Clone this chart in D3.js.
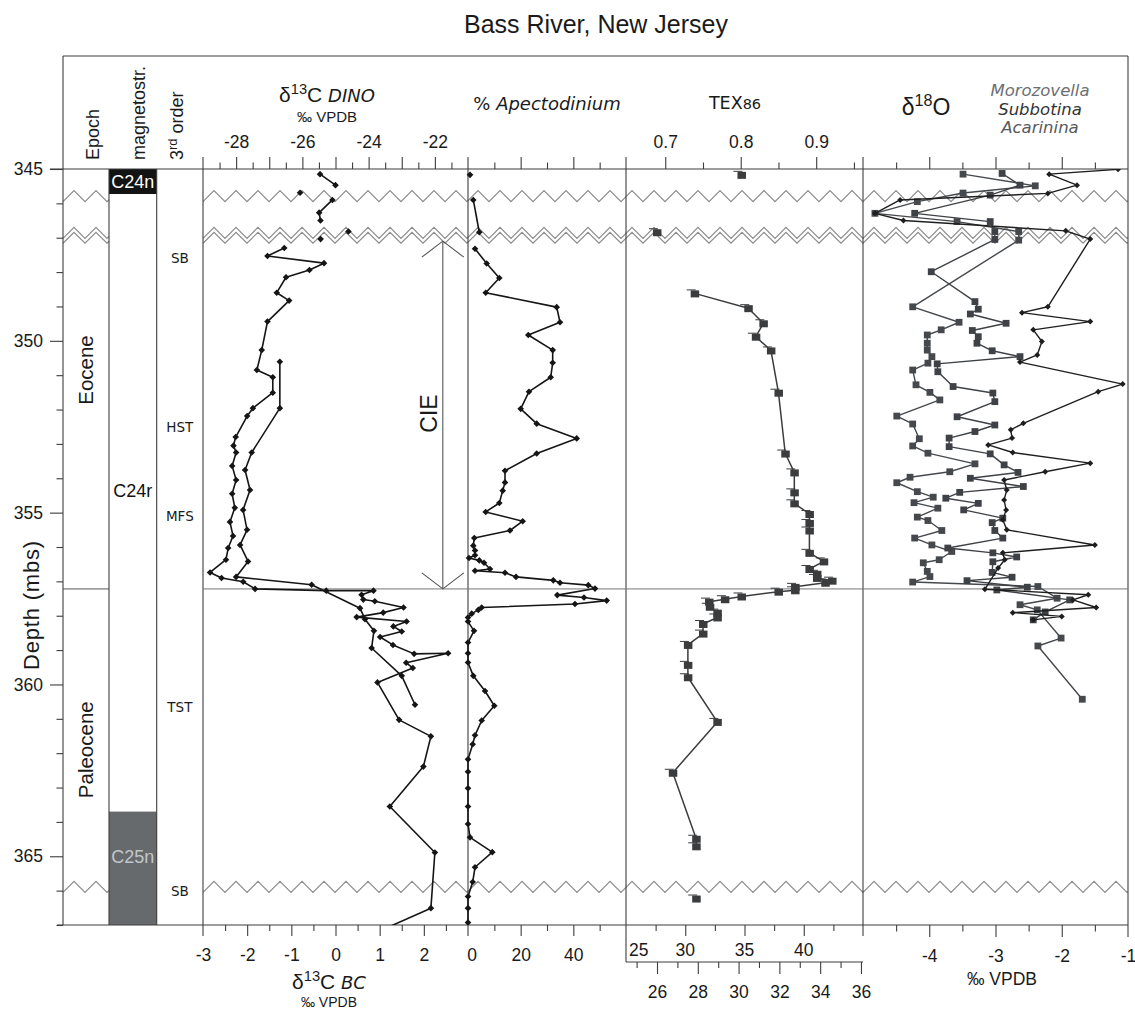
<!DOCTYPE html>
<html><head><meta charset="utf-8">
<script src="https://cdn.jsdelivr.net/npm/d3@7"></script>
<style>body{margin:0;background:#fff}svg{display:block}</style>
</head><body><svg id="c" width="1135" height="1011"></svg>
<script>
// ---------------- DATA ----------------
const depthTicksMajor = [345, 350, 355, 360, 365];
const epochs = [{name:"Eocene", top:345, base:357.22}, {name:"Paleocene", top:357.22, base:367}];
const chrons = [{name:"C24n", top:345, base:345.73, fill:"#131313", text:"#ffffff"},
                {name:"C24r", top:345.73, base:363.7, fill:"#ffffff", text:"#111111"},
                {name:"C25n", top:363.7, base:367, fill:"#666a6d", text:"#c3c6ca"}];
const sequences = [{name:"SB", depth:347.6}, {name:"HST", depth:352.5}, {name:"MFS", depth:355.1},
                   {name:"TST", depth:360.65}, {name:"SB", depth:366.0}];
const unconformities = [345.79, 346.86, 347.0, 365.89];
const cieOnset = 357.22, cieTop = 347.1;

const bcDepth = [345.15,345.47,345.90,346.27,346.50,347.30,347.53,347.74,347.94,348.15,348.60,348.83,349.44,350.27,350.85,351.06,351.51,351.96,352.19,352.80,353.05,353.25,353.64,354.05,354.45,354.86,355.27,355.68,356.03,356.37,356.74,356.90,357.01,357.22,357.27,357.27,357.39,357.53,357.58,357.76,357.91,358.04,358.17,358.31,358.46,358.62,358.85,359.11,359.09,359.37,359.52,359.94,361.03,361.51,362.39,363.55,364.89,366.51,367.50];
const bcValue = [-0.35,0.00,-0.07,-0.37,-0.34,-1.16,-1.54,-0.26,-0.59,-1.12,-1.33,-1.05,-1.54,-1.67,-1.78,-1.42,-1.42,-1.87,-2.00,-2.26,-2.31,-2.25,-2.34,-2.25,-2.34,-2.28,-2.39,-2.32,-2.43,-2.48,-2.84,-2.58,-2.09,-1.82,-0.21,0.86,0.59,0.63,0.89,1.54,1.08,0.48,1.61,1.31,1.50,1.01,1.30,1.78,2.55,1.60,1.75,0.95,1.44,2.16,1.99,1.23,2.25,2.16,0.43];
const bcBreaks = [345.8, 346.95];

const dinoDepth = [345.69,346.82,347.04,350.61,351.96,353.25,353.76,354.34,354.92,355.50,355.94,356.42,356.87,357.10,357.78,358.10,358.44,358.94,359.75,360.59];
const dinoValue = [-26.07,-24.61,-25.45,-26.68,-26.68,-27.53,-27.73,-27.58,-27.79,-27.67,-27.88,-27.64,-28.00,-25.72,-24.26,-24.11,-23.84,-23.91,-23.00,-22.60];
const dinoBreaks = [345.8, 346.93, 347.2];

const apecDepth = [345.17,345.90,346.84,347.32,347.75,348.17,348.60,349.02,349.46,349.83,350.27,350.64,351.06,351.48,351.98,352.41,352.84,353.28,353.78,354.12,354.36,354.72,354.98,355.25,355.52,355.74,355.96,356.10,356.24,356.32,356.39,356.46,356.64,356.69,356.75,356.87,356.97,357.04,357.11,357.21,357.40,357.47,357.56,357.66,357.76,357.83,357.94,358.05,358.17,358.44,358.78,359.09,359.36,359.75,360.19,360.62,361.05,361.48,361.74,362.18,362.54,363.02,363.55,364.06,364.45,364.88,365.32,365.75,366.17,366.51,366.93];
const apecValue = [0.76,2.01,4.29,2.66,7.10,11.89,6.72,33.68,34.94,22.90,32.16,32.16,31.41,23.16,20.01,26.09,41.28,26.09,14.05,14.05,13.18,11.89,6.72,20.77,15.95,2.39,2.01,2.66,2.66,0.38,4.29,6.08,8.35,2.66,14.05,18.23,32.39,34.94,45.68,48.23,33.91,44.05,52.67,40.63,5.20,3.91,1.41,0,0,2.28,0,0,0,2.01,6.46,9.99,5.20,2.66,1.78,0,0,0,0,0,0.76,9.23,2.66,1.78,0,0,0];
const apecBreaks = [345.8, 346.95];

const texDepth = [345.17,346.84,348.62,349.05,349.49,349.88,350.28,351.51,353.28,353.83,354.41,354.73,355.04,355.30,355.52,356.17,356.42,356.64,356.78,356.90,356.98,357.04,357.16,357.26,357.30,357.44,357.52,357.59,357.74,357.91,358.05,358.24,358.52,358.85,359.43,359.79,361.09,362.57,364.49,364.71,366.23];
const texValue = [0.801,0.689,0.739,0.810,0.830,0.820,0.840,0.850,0.859,0.871,0.871,0.871,0.891,0.891,0.891,0.891,0.910,0.891,0.901,0.901,0.921,0.912,0.872,0.872,0.850,0.801,0.779,0.758,0.759,0.769,0.769,0.750,0.750,0.730,0.730,0.730,0.769,0.710,0.741,0.741,0.741];
const texBreaks = [345.8, 346.95, 365.9];

const subbDepth = [345.01,345.15,345.47,345.71,345.90,346.29,346.50,346.80,347.04,349.01,349.18,349.44,349.68,350.02,350.41,350.62,351.26,351.48,352.40,352.59,352.83,353.03,353.25,353.56,353.81,354.05,354.34,354.63,354.92,355.21,355.50,355.94,356.17,356.37,356.61,357.23,357.39,357.54,357.76,357.91,358.02,358.12];
const subbValue = [-1.15,-2.19,-1.77,-2.21,-4.44,-4.82,-4.39,-1.94,-1.57,-2.21,-2.60,-1.57,-2.43,-2.30,-2.37,-2.63,-1.08,-1.45,-2.58,-2.77,-2.75,-3.11,-2.74,-1.57,-2.25,-2.87,-2.83,-2.87,-2.84,-2.89,-2.83,-1.50,-2.89,-2.86,-2.96,-3.16,-1.60,-1.83,-1.48,-2.74,-2.00,-2.43];

const moroDepth = [345.15,345.49,345.70,345.95,346.29,346.53,346.82,347.07,349.01,349.46,349.68,349.83,350.07,350.27,350.46,350.65,350.85,351.28,351.50,351.72,352.19,352.42,352.85,353.06,353.27,353.58,353.81,353.97,354.13,354.39,354.55,354.71,354.87,355.13,355.23,355.52,355.74,355.94,356.13,356.37,356.46,356.71,356.86,357.02,357.15,357.49,357.68,357.83,358.65,358.88,360.43];
const moroValue = [-3.49,-2.40,-3.49,-4.18,-4.82,-3.58,-2.65,-2.65,-4.25,-3.55,-3.82,-4.03,-4.03,-4.03,-3.96,-4.02,-4.25,-4.20,-3.99,-3.84,-4.49,-4.25,-4.15,-4.25,-4.02,-3.31,-3.69,-4.29,-4.49,-4.18,-3.94,-4.23,-3.87,-4.18,-4.02,-3.81,-4.22,-3.96,-3.66,-3.85,-4.09,-4.03,-3.99,-4.25,-2.36,-2.07,-2.63,-2.37,-2.01,-2.36,-1.69];

const acarDepth = [345.13,345.47,345.76,346.29,346.53,346.82,347.05,347.99,348.86,349.08,349.22,349.49,349.70,349.88,350.07,350.29,350.46,350.67,350.90,351.33,351.52,351.77,352.21,352.45,352.64,352.83,353.08,353.29,353.61,353.83,354.00,354.24,354.41,354.58,354.73,354.92,355.16,355.29,355.52,355.74,356.03,356.17,356.29,356.43,356.74,356.88,356.98,357.17,357.25,357.54,357.89,358.12];
const acarValue = [-2.90,-2.63,-3.08,-4.22,-3.08,-3.01,-3.01,-3.97,-3.31,-3.26,-3.38,-2.84,-3.35,-3.26,-3.28,-3.05,-2.63,-3.88,-3.87,-3.64,-3.04,-3.01,-3.58,-3.01,-3.31,-3.70,-3.70,-3.08,-2.87,-2.66,-3.38,-2.58,-3.54,-3.75,-3.26,-3.48,-2.89,-3.05,-3.01,-2.89,-3.72,-3.04,-2.68,-3.04,-3.05,-2.75,-3.43,-2.52,-2.98,-1.88,-2.25,-2.43];

// tick label lists
const dinoLabels = [-28,-26,-24,-22];
const bcLabels = [-3,-2,-1,0,1,2];
const apecLabels = [0,20,40];
const texLabels = [0.7,0.8,0.9];
const sst1Labels = [25,30,35,40];
const sst2Labels = [26,28,30,32,34,36];
const d18Labels = [-4,-3,-2,-1];

// ---------------- LAYOUT ----------------
const F = "'Liberation Sans', Arial, sans-serif";
const FD = "'DejaVu Sans', Verdana, sans-serif";
const LC = "#3d3d3d";
const X = {frameL:63, epochR:109, magR:156.7, seqR:203, c13R:468, apeR:626, texR:863, frameR:1128};
const TOP = 56;
const svg = d3.select("#c");

const y = d3.scaleLinear().domain([345,367]).range([169,925]);
const xDino = d3.scaleLinear().domain([-29,-21]).range([X.seqR, X.c13R]);
const xBC = d3.scaleLinear().domain([-3,3]).range([X.seqR, X.c13R]);
const xApe = d3.scaleLinear().domain([0,60]).range([X.c13R, X.apeR]);
const xTex = d3.scaleLinear().domain([0.648,0.962]).range([X.apeR, X.texR]);
const xSST1 = d3.scaleLinear().domain([25,45]).range([X.apeR, X.texR]);
const xSST2 = d3.scaleLinear().domain([24.48,36.1]).range([X.apeR, X.texR]);
const xO = d3.scaleLinear().domain([-5,-1]).range([X.texR, X.frameR]);
const Y0 = y(345), Y1 = y(367);

function line(x1,y1,x2,y2,c,w){ svg.append("line").attr("x1",x1).attr("y1",y1).attr("x2",x2).attr("y2",y2).attr("stroke",c||LC).attr("stroke-width",w||1.1); }
function txt(x,yy,s,o){ o=o||{}; const t=svg.append("text").attr("x",x).attr("y",yy).text(s)
  .attr("font-family",o.ff||F).attr("font-size",o.fs||16).attr("fill",o.fill||"#1a1a1a").attr("text-anchor",o.anchor||"middle");
  if(o.italic) t.attr("font-style","italic"); if(o.ls) t.attr("letter-spacing",o.ls);
  if(o.rot) t.attr("transform",`rotate(-90,${x},${yy})`); return t; }
function deltaLabel(x, yy, sup, main, tail, big){
  const t = svg.append("text").attr("x",x).attr("y",yy).attr("text-anchor","middle").attr("font-family",F).attr("fill","#1a1a1a");
  t.append("tspan").text("δ").attr("font-size",big);
  t.append("tspan").text(sup).attr("font-size",big*0.7).attr("dy",-big*0.36);
  t.append("tspan").text(main).attr("font-size",big).attr("dy",big*0.36);
  if(tail) t.append("tspan").text(tail).attr("font-size",big*0.86).attr("font-style","italic").attr("font-family",FD);
  return t;
}

// title
txt(596, 33, "Bass River, New Jersey", {fs:25});

// chron fills
chrons.forEach(c=>{
  svg.append("rect").attr("x",X.epochR).attr("y",y(c.top)).attr("width",X.magR-X.epochR).attr("height",y(c.base)-y(c.top)).attr("fill",c.fill);
});
chrons.forEach(c=>{
  let cy = c.name==="C24n" ? (y(c.top)+y(c.base))/2 : c.name==="C24r" ? y(354.35) : y(365.0);
  txt((X.epochR+X.magR)/2, cy+6.5, c.name, {fs:18, fill:c.text});
});

// zigzag unconformities
function zig(x0,x1,yc){
  const per=22, amp=5.5, pts=[];
  let i=0;
  for(let x=x0; x<x1; x+=per/2, i++) pts.push([x, yc + (i%2===0?amp:-amp)]);
  const last = pts[pts.length-1];
  const frac = (x1-last[0])/(per/2);
  const nextY = yc + (i%2===0?amp:-amp);
  pts.push([x1, last[1] + (nextY-last[1])*frac]);
  svg.append("path").attr("d", d3.line()(pts)).attr("fill","none").attr("stroke","#8c8c8c").attr("stroke-width",1.2);
}
unconformities.forEach(d=>{ zig(X.frameL, X.epochR, y(d)); zig(X.seqR, X.frameR, y(d)); });

// frame and column lines
line(X.frameL, TOP, X.frameR, TOP);
line(X.frameL, TOP, X.frameL, Y1);
line(X.frameR, TOP, X.frameR, Y1+12);
line(50, Y0, X.frameR, Y0);
line(57, Y1, X.frameR, Y1);
line(X.epochR, Y0, X.epochR, Y1);
line(X.magR, Y0, X.magR, Y1);
line(X.seqR, Y0-12, X.seqR, Y1+11);
line(X.c13R, Y0-12, X.c13R, Y1+11);
line(X.apeR, Y0-12, X.apeR, Y1+37);
line(X.texR, Y0-12, X.texR, Y1+11);
// epoch boundary + CIE onset line
line(X.frameL, y(cieOnset), X.epochR, y(cieOnset), "#555", 1);
line(X.seqR, y(cieOnset), X.frameR, y(cieOnset), "#777", 1);

// y axis
function yAxis(vals, size, lab){
  const g = svg.append("g").attr("transform",`translate(${X.frameL},0)`)
    .call(d3.axisLeft(y).tickValues(vals).tickSize(size).tickPadding(7).tickFormat(d=> lab? String(d):""));
  g.select(".domain").remove();
  g.selectAll("line").attr("stroke",LC).attr("stroke-width",1.1);
  g.selectAll("text").attr("font-family",F).attr("font-size",17.5).attr("fill","#1a1a1a");
}
yAxis(depthTicksMajor, 13, true);
yAxis(d3.range(346,368).filter(d=>!depthTicksMajor.includes(d)), 6.5, false);

// x axes helper
function xAxis(orient, scale, ypos, vals, size, labels, pad, fs){
  const a = (orient==="top"? d3.axisTop(scale) : d3.axisBottom(scale))
    .tickValues(vals).tickSize(size).tickPadding(pad)
    .tickFormat(d => labels.includes(d) ? String(d) : "");
  const g = svg.append("g").attr("transform",`translate(0,${ypos})`).call(a);
  g.select(".domain").remove();
  g.selectAll("line").attr("stroke",LC).attr("stroke-width",1.1);
  g.selectAll("text").attr("font-family",F).attr("font-size",fs||17.5).attr("fill","#1a1a1a");
  return g;
}
// top axes
xAxis("top", xDino, Y0, d3.range(-28,-21.5,1), 12, dinoLabels, 9);
xAxis("top", xDino, Y0, d3.range(-28.5,-21,1), 6.5, [], 9);
xAxis("top", xApe, Y0, [20,40], 12, [], 9);
xAxis("top", xApe, Y0, [10,30,50], 6.5, [], 9);
xAxis("top", xTex, Y0, [0.7,0.8,0.9], 12, texLabels, 9);
xAxis("top", xTex, Y0, [0.75,0.85,0.95], 6.5, [], 9);
xAxis("top", xO, Y0, [-4,-3,-2], 12, [], 9);
xAxis("top", xO, Y0, [-4.5,-3.5,-2.5,-1.5], 6.5, [], 9);
// bottom axes
xAxis("bottom", xBC, Y1, [-2,-1,0,1,2], 11, bcLabels, 13);
xAxis("bottom", xBC, Y1, [-3], 0, bcLabels, 24);
xAxis("bottom", xBC, Y1, d3.range(-2.5,3,1), 6, [], 13);
xAxis("bottom", xApe, Y1, [20,40], 11, apecLabels, 13);
xAxis("bottom", xApe, Y1, [10,30,50], 6, [], 13);
txt(xApe(0)+4, Y1+36, "0", {fs:17.5});
xAxis("bottom", xSST1, Y1, [30,35,40], 11, [], 13);
xAxis("bottom", xSST1, Y1, [27.5,32.5,37.5,42.5], 6, [], 13);
sst1Labels.forEach(v=>{
  txt(v===25 ? xSST1(v)+3 : xSST1(v), Y1+31, String(v), {fs:17.5, anchor: v===25?"start":"middle"});
});
const y2 = Y1+37;
line(X.apeR, y2, X.texR, y2);
xAxis("bottom", xSST2, y2, sst2Labels, 12, sst2Labels, 12);
xAxis("bottom", xSST2, y2, [25,27,29,31,33,35], 6, [], 12);
xAxis("bottom", xO, Y1, [-4,-3,-2], 12, d18Labels, 13);
xAxis("bottom", xO, Y1, [-1], 0, d18Labels, 25);
xAxis("bottom", xO, Y1, [-4.5,-3.5,-2.5,-1.5], 6.5, [], 13);

// headers
txt(99, 160, "Epoch", {fs:18, rot:true, anchor:"start"});
txt(145, 160, "magnetostr.", {fs:18, rot:true, anchor:"start"});
const t3 = svg.append("text").attr("transform","translate(183,160) rotate(-90)").attr("font-family",F).attr("font-size",18).attr("fill","#1a1a1a");
t3.append("tspan").text("3");
t3.append("tspan").text("rd").attr("font-size",13).attr("dy",-6);
t3.append("tspan").text(" order").attr("dy",6);
txt(93, y(350.85), "Eocene", {fs:20.5, rot:true});
txt(93, y(361.9), "Paleocene", {fs:20.5, rot:true});
txt(39, 605, "Depth (mbs)", {fs:22, rot:true, ls:0.8});
sequences.forEach(s=> txt((X.magR+X.seqR)/2, y(s.depth)+5, s.name, {fs:13.5, ff:FD}));

// δ13C DINO header
deltaLabel(327, 101.5, "13", "C", " DINO", 21);
txt(327, 122, "‰ VPDB", {fs:15});
// % Apectodinium
const h2 = svg.append("text").attr("x",547).attr("y",109.5).attr("text-anchor","middle").attr("font-family",FD).attr("font-size",18).attr("fill","#1a1a1a");
h2.append("tspan").text("% ");
h2.append("tspan").text("Apectodinium").attr("font-style","italic");
// TEX86
const h3 = svg.append("text").attr("x",735).attr("y",109).attr("text-anchor","middle").attr("font-family",FD).attr("fill","#1a1a1a");
h3.append("tspan").text("TEX").attr("font-size",17.5);
h3.append("tspan").text("86").attr("font-size",14.5);
// δ18O
deltaLabel(926, 114.5, "18", "O", null, 23);
txt(1040, 96, "Morozovella", {fs:16.5, ff:FD, italic:true, fill:"#6d6e71"});
txt(1040, 114.5, "Subbotina", {fs:16.5, ff:FD, italic:true, fill:"#333333"});
txt(1040, 133, "Acarinina", {fs:16.5, ff:FD, italic:true, fill:"#58595b"});
// bottom labels
deltaLabel(329, 989, "13", "C", " BC", 21);
txt(329, 1007, "‰ VPDB", {fs:14});
txt(1002, 985, "‰ VPDB", {fs:17.5});

// CIE arrow
const ax = xBC(2.43), at = y(cieTop), ab = y(cieOnset);
line(ax, at, ax, ab, "#555", 1.1);
svg.append("path").attr("d",`M${ax-21},${at+16}L${ax},${at}L${ax+21},${at+16}`).attr("fill","none").attr("stroke","#555").attr("stroke-width",1.1);
svg.append("path").attr("d",`M${ax-21},${ab-16}L${ax},${ab}L${ax+21},${ab-16}`).attr("fill","none").attr("stroke","#555").attr("stroke-width",1.1);
txt(437, 413.5, "CIE", {fs:23, rot:true});

// ---------------- SERIES ----------------
const defs = svg.append("defs");
function clip(id,x0,x1){ defs.append("clipPath").attr("id",id).append("rect").attr("x",x0-6).attr("y",Y0).attr("width",x1-x0+12).attr("height",Y1-Y0); return `url(#${id})`; }
function split(depths, values, breaks){
  const segs=[]; let cur=[];
  depths.forEach((d,i)=>{
    if(i>0 && breaks.some(b => (depths[i-1]-b)*(d-b) < 0)){ segs.push(cur); cur=[]; }
    cur.push([d, values[i]]);
  });
  segs.push(cur); return segs;
}
function series(depths, values, xs, breaks, o, clipUrl){
  const g = svg.append("g").attr("clip-path", clipUrl);
  const gen = d3.line().x(p=>xs(p[1])).y(p=>y(p[0]));
  split(depths, values, breaks).forEach(seg=>{
    if(seg.length>1) g.append("path").attr("d",gen(seg)).attr("fill","none").attr("stroke",o.color).attr("stroke-width",o.lw).attr("stroke-linejoin","round");
  });
  depths.forEach((d,i)=>{
    const cx = xs(values[i]), cy = y(d), s=o.size;
    if(o.marker==="diamond"){
      g.append("path").attr("d",`M${cx},${cy-s}L${cx+s},${cy}L${cx},${cy+s}L${cx-s},${cy}Z`).attr("fill",o.color);
    } else if(o.marker==="tex"){
      g.append("rect").attr("x",cx-4).attr("y",cy-3).attr("width",8.5).attr("height",7).attr("fill",o.color);
      g.append("line").attr("x1",cx-8).attr("y1",cy-3.5).attr("x2",cx+1).attr("y2",cy-3.5).attr("stroke",o.color).attr("stroke-width",1);
    } else {
      g.append("rect").attr("x",cx-s).attr("y",cy-s).attr("width",2*s).attr("height",2*s).attr("fill",o.color);
    }
  });
}
const c13Clip = clip("c13", X.seqR, X.c13R);
series(bcDepth, bcValue, xBC, bcBreaks, {color:"#151515", lw:1.6, marker:"diamond", size:3.3}, c13Clip);
series(dinoDepth, dinoValue, xDino, dinoBreaks, {color:"#151515", lw:1.6, marker:"diamond", size:3.3}, c13Clip);
series(apecDepth, apecValue, xApe, apecBreaks, {color:"#151515", lw:1.6, marker:"diamond", size:3.3}, clip("ape", X.c13R, X.apeR));
series(texDepth, texValue, xTex, texBreaks, {color:"#3b3c3e", lw:1.5, marker:"tex"}, clip("tex", X.apeR, X.texR));
const oClip = clip("o18", X.texR, X.frameR);
series(moroDepth, moroValue, xO, [], {color:"#45484c", lw:1.4, marker:"square", size:3.4}, oClip);
series(acarDepth, acarValue, xO, [], {color:"#3e4145", lw:1.4, marker:"square", size:3.4}, oClip);
series(subbDepth, subbValue, xO, [], {color:"#1e1e1e", lw:1.4, marker:"diamond", size:3}, oClip);
</script></body></html>
